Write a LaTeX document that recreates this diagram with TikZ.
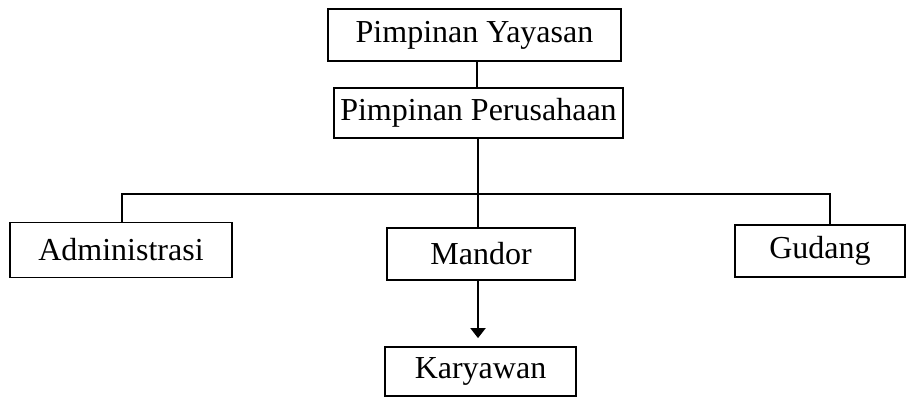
\documentclass[tikz,border=0pt]{standalone}
\usepackage{fontspec}
\setmainfont{Liberation Serif}
\usetikzlibrary{arrows.meta,calc}
\begin{document}
\begin{tikzpicture}[x=1pt,y=-1pt,
  box/.style={draw=black,line width=1.8pt,inner sep=0pt,font=\fontsize{32}{36}\selectfont},
  conn/.style={draw=black,line width=2pt}]
\useasboundingbox (0,0) rectangle (915,399);
\node[box,minimum width=293,minimum height=52] (yay) at (474.5,35) {Pimpinan Yayasan};
\node[box,minimum width=289,minimum height=50] (per) at (478.5,113) {Pimpinan Perusahaan};
\node[box,minimum width=222,minimum height=55] (adm) at (121,250) {Administrasi};
\node[box,minimum width=188,minimum height=52] (man) at (481,254) {Mandor};
\node[box,minimum width=170,minimum height=52] (gud) at (820,251) {Gudang};
\node[box,minimum width=191,minimum height=49] (kar) at (480.5,371.5) {Karyawan};
\coordinate (bl) at (122,194);
\coordinate (br) at (830,194);
\coordinate (bm) at (478,194);
\draw[conn] (yay.south -| 477,0) -- (per.north -| 477,0);
\draw[conn] (per.south -| bm) -- (bm);
\draw[conn,line width=2.8pt] (bl |- adm.north) -- (bl) -- (br) -- (br |- gud.north);
\draw[conn] (bm) -- (man.north -| bm);
\draw[conn,-{Triangle[length=10pt,width=15pt]}] (man.south -| bm) -- ($(kar.north -| bm)+(0,-8)$);
\end{tikzpicture}
\end{document}
